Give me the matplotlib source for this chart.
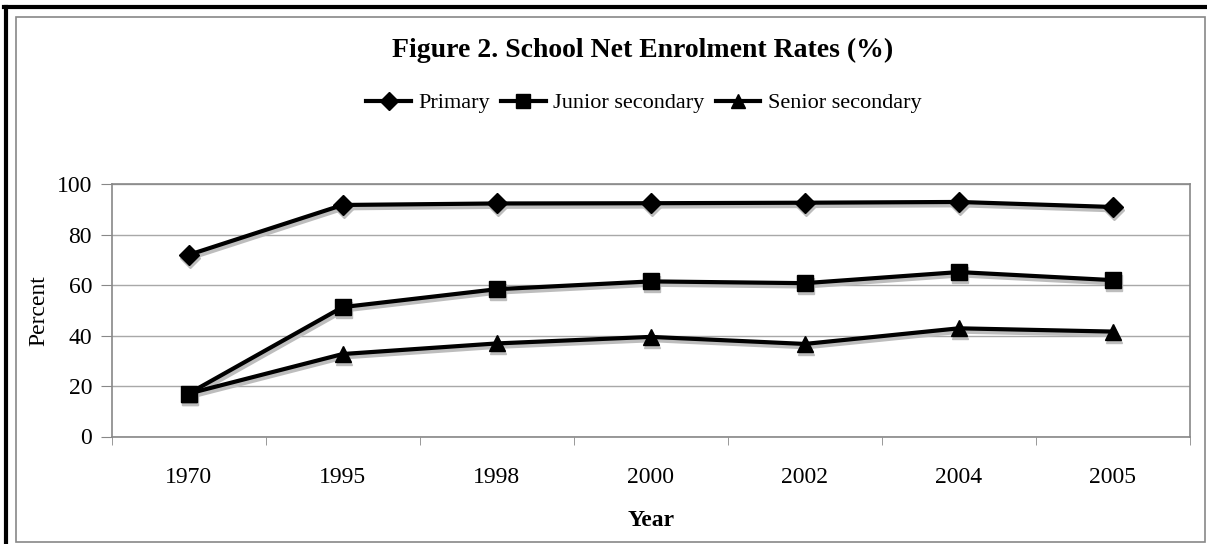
import matplotlib.pyplot as plt
from matplotlib.lines import Line2D
from matplotlib.transforms import offset_copy

years = ['1970', '1995', '1998', '2000', '2002', '2004', '2005']
primary = [72, 91.8, 92.4, 92.5, 92.7, 93.0, 91.0]
junior_secondary = [17, 51.3, 58.4, 61.5, 60.8, 65.2, 62.0]
senior_secondary = [17, 32.7, 36.9, 39.5, 36.7, 42.9, 41.6]

W, H = 1207, 544
plt.rcParams['font.family'] = 'Liberation Serif'

fig = plt.figure(figsize=(W / 100, H / 100), dpi=100)

# frame round the whole figure: thick black on top/left, thin grey box inside
fig.add_artist(Line2D([5.5 / W, 5.5 / W], [0, 1 - 6.5 / H], color='black', lw=3))
fig.add_artist(Line2D([4 / W, 1], [1 - 6.5 / H, 1 - 6.5 / H], color='black', lw=3))
fig.add_artist(plt.Rectangle((15.5 / W, 2.5 / H), (1205 - 15.5) / W, (541.5 - 16.5) / H,
                             transform=fig.transFigure, fill=False, ec='#888888', lw=1.2))

left, right, top, bottom = 111.5, 1190, 184.3, 436.5
ax = fig.add_axes([left / W, 1 - bottom / H, (right - left) / W, (bottom - top) / H])

# soft grey drop shadow drawn a few pixels below/right of each series
shadow_tf = offset_copy(ax.transData, fig=fig, x=1.5, y=-3, units='dots')
x = list(range(len(years)))
series = [(primary, 'D', 10, 'Primary'),
          (junior_secondary, 's', 11.5, 'Junior secondary'),
          (senior_secondary, '^', 11.5, 'Senior secondary')]
handles = []
for vals, mk, ms, name in series:
    ax.plot(x, vals, color='#bdbdbd', lw=3.5, marker=mk, markersize=ms,
            transform=shadow_tf, zorder=2)
    ax.plot(x, vals, color='black', lw=3, marker=mk, markersize=ms, zorder=3)
    handles.append(Line2D([], [], color='black', lw=3, marker=mk, markersize=ms * 0.9, label=name))

ax.set_xlim(-0.5, len(years) - 0.5)
ax.set_ylim(0, 100)
ax.set_yticks(range(0, 101, 20))
ax.tick_params(axis='y', labelsize=17, length=8, color='#888888', direction='out', pad=6)
ax.set_xticks(x)
ax.set_xticklabels(years)
ax.tick_params(axis='x', which='major', length=0, labelsize=17, pad=22)
ax.set_xticks([i - 0.5 for i in range(len(years) + 1)], minor=True)
ax.tick_params(axis='x', which='minor', length=6, color='#888888', direction='out')
ax.grid(axis='y', color='#a8a8a8', lw=1)
ax.set_axisbelow(True)
for s in ax.spines.values():
    s.set_color('#888888')
    s.set_linewidth(1.2)

ax.set_ylabel('Percent', fontsize=17, labelpad=5)
ax.set_xlabel('Year', fontsize=17, fontweight='bold', labelpad=16)

fig.text(643 / W, 1 - 50 / H, 'Figure 2. School Net Enrolment Rates (%)',
         ha='center', va='center', fontsize=20, fontweight='bold')
fig.legend(handles=handles, loc='center', bbox_to_anchor=(644 / W, 1 - 103 / H), ncol=3,
           frameon=False, fontsize=16, handlelength=2.0, handletextpad=0.35, columnspacing=0.5)

fig.savefig('out.png', dpi=100)
